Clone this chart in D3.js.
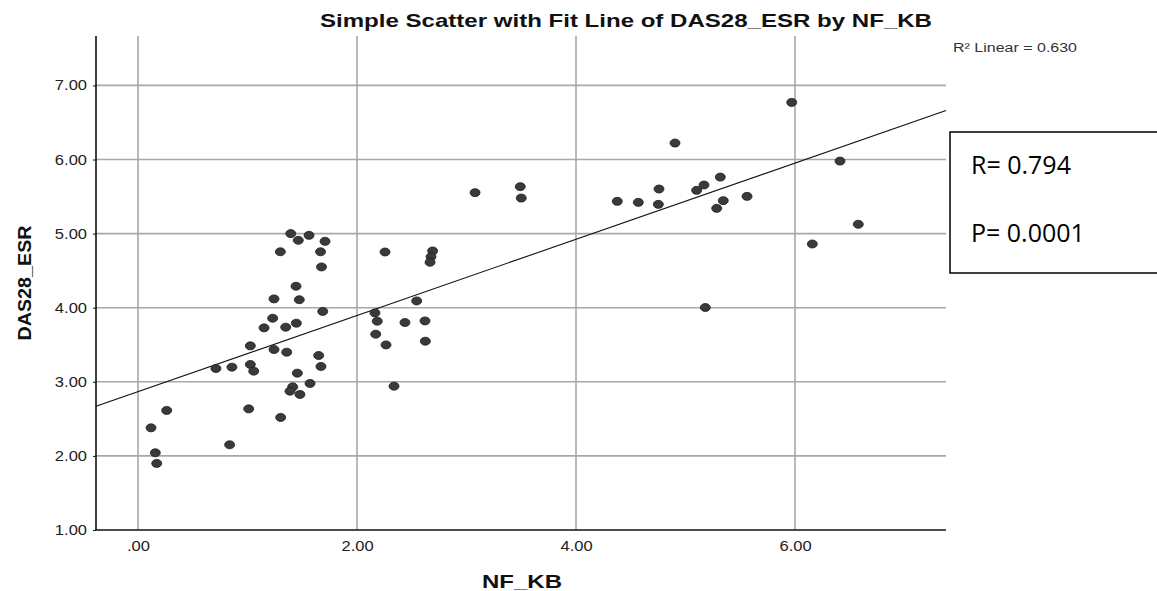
<!DOCTYPE html>
<html>
<head>
<meta charset="utf-8">
<script src="https://cdn.jsdelivr.net/npm/d3@7"></script>
<style>
  body { margin: 0; background: #fff; }
  text { font-family: "Liberation Sans", Arial, sans-serif; }
</style>
</head>
<body>
<div id="chart"></div>
<script>
// NF_KB (x) and DAS28_ESR (y)
const nfkb = [
  0.158, 0.171, 0.119, 0.262, 0.837, 0.712, 0.858, 1.011, 1.026, 1.026,
  1.057, 1.151, 1.230, 1.242, 1.242, 1.303, 1.300, 1.349, 1.358, 1.395,
  1.464, 1.562, 1.708, 1.667, 1.676, 1.443, 1.473, 1.446, 1.687, 1.455,
  1.413, 1.388, 1.479, 1.571, 1.650, 1.671, 2.164, 2.185, 2.171, 2.265,
  2.338, 2.256, 2.438, 2.545, 2.621, 2.624, 2.691, 2.676, 2.667, 3.078,
  3.491, 3.500, 4.377, 4.569, 4.758, 4.752, 4.904, 5.102, 5.169, 5.318,
  5.345, 5.285, 5.562, 5.181, 5.970, 6.411, 6.578, 6.158
];
const das28 = [
  2.042, 1.899, 2.379, 2.614, 2.150, 3.180, 3.198, 2.635, 3.485, 3.234,
  3.144, 3.728, 3.858, 4.119, 3.436, 2.519, 4.755, 3.737, 3.400, 5.000,
  4.910, 4.977, 4.896, 4.755, 4.550, 4.290, 4.108, 3.791, 3.950, 3.117,
  2.932, 2.874, 2.830, 2.978, 3.355, 3.207, 3.930, 3.818, 3.643, 3.498,
  2.941, 4.752, 3.800, 4.092, 3.822, 3.548, 4.766, 4.687, 4.613, 5.553,
  5.634, 5.480, 5.436, 5.422, 5.602, 5.395, 6.222, 5.584, 5.656, 5.763,
  5.445, 5.341, 5.503, 4.003, 6.771, 5.979, 5.126, 4.860
];
const xTicks = [0, 2, 4, 6];
const yTicks = [1, 2, 3, 4, 5, 6, 7];
const titleText = "Simple Scatter with Fit Line of DAS28_ESR by NF_KB";
const r2Text = "R\u00B2 Linear = 0.630";
const statLines = ["R= 0.794", "P= 0.0001"];

const data = nfkb.map((x, i) => ({ x: x, y: das28[i] }));

const width = 1157, height = 591;
const svg = d3.select("#chart").append("svg")
  .attr("width", width).attr("height", height);

// the source export is a bit wide; stretch text horizontally to match
function stretch(sel, f) {
  sel.each(function () {
    const w = this.getComputedTextLength();
    d3.select(this).attr("textLength", w * f).attr("lengthAdjust", "spacingAndGlyphs");
  });
}

// plot box: left 96, right 946, top 36, bottom 530
const xScale = d3.scaleLinear().domain([-0.3836, 7.379]).range([96, 946]);
const yScale = d3.scaleLinear().domain([1, 7.667]).range([530, 36]);

// GRIDLINES
svg.append("g").selectAll("line").data(yTicks.slice(1)).join("line")
  .attr("x1", 96).attr("x2", 946)
  .attr("y1", d => yScale(d)).attr("y2", d => yScale(d))
  .style("stroke", "#a8a8a8").style("stroke-width", 1.6);
svg.append("g").selectAll("line").data(xTicks).join("line")
  .attr("x1", d => xScale(d)).attr("x2", d => xScale(d))
  .attr("y1", 36).attr("y2", 530)
  .style("stroke", "#a8a8a8").style("stroke-width", 1.6);

// AXES
const yAxis = svg.append("g")
  .attr("transform", "translate(96,0)")
  .call(d3.axisLeft(yScale).tickValues(yTicks).tickFormat(d3.format(".2f")).tickSize(3).tickPadding(6));
const xAxis = svg.append("g")
  .attr("transform", "translate(0,530)")
  .call(d3.axisBottom(xScale).tickValues(xTicks)
    .tickFormat(d => d === 0 ? ".00" : d3.format(".2f")(d)).tickSize(0).tickPadding(11));
[xAxis, yAxis].forEach(a => {
  a.select(".domain").style("stroke", "#111").style("stroke-width", 1.6);
  a.selectAll(".tick line").style("stroke", "#111");
  a.selectAll("text").style("font-size", "14px").style("fill", "#222")
    .style("font-family", "'Liberation Sans', Arial, sans-serif");
  stretch(a.selectAll("text"), 1.18);
});
// y axis line runs to top of plot
yAxis.select(".domain").attr("d", "M0,36V530");
xAxis.select(".domain").attr("d", "M96,0H946");

// FIT LINE (least squares)
const mx = d3.mean(data, d => d.x), my = d3.mean(data, d => d.y);
const slope = d3.sum(data, d => (d.x - mx) * (d.y - my)) / d3.sum(data, d => (d.x - mx) ** 2);
const icpt = my - slope * mx;
const [x0, x1] = xScale.domain();
svg.append("line")
  .attr("x1", xScale(x0)).attr("y1", yScale(icpt + slope * x0))
  .attr("x2", xScale(x1)).attr("y2", yScale(icpt + slope * x1))
  .style("stroke", "#111").style("stroke-width", 1.1);

// DOTS
svg.append("g").selectAll("ellipse").data(data).join("ellipse")
  .attr("cx", d => xScale(d.x)).attr("cy", d => yScale(d.y))
  .attr("rx", 5).attr("ry", 4)
  .style("fill", "#3a3a3a").style("stroke", "#1e1e1e").style("stroke-width", 0.8);

// TITLE
svg.append("text")
  .attr("x", 626).attr("y", 27)
  .attr("text-anchor", "middle")
  .attr("textLength", 612).attr("lengthAdjust", "spacingAndGlyphs")
  .style("font-size", "19px").style("font-weight", "bold").style("fill", "#111")
  .text(titleText);

svg.append("text")
  .attr("x", 953).attr("y", 52)
  .attr("textLength", 124).attr("lengthAdjust", "spacingAndGlyphs")
  .style("font-size", "12.5px").style("fill", "#333")
  .text(r2Text);

// AXIS LABELS
svg.append("text")
  .attr("x", 522).attr("y", 588)
  .attr("text-anchor", "middle")
  .attr("textLength", 80).attr("lengthAdjust", "spacingAndGlyphs")
  .style("font-size", "18px").style("font-weight", "bold").style("fill", "#111")
  .text("NF_KB");
svg.append("text")
  .attr("transform", "rotate(-90)")
  .attr("x", -283).attr("y", 31)
  .attr("text-anchor", "middle")
  .attr("textLength", 115).attr("lengthAdjust", "spacingAndGlyphs")
  .style("font-size", "18px").style("font-weight", "bold").style("fill", "#111")
  .text("DAS28_ESR");

// R / P box
svg.append("rect")
  .attr("x", 950).attr("y", 132).attr("width", 220).attr("height", 141)
  .style("fill", "#fff").style("stroke", "#000").style("stroke-width", 1.5);
svg.append("g").selectAll("text").data(statLines).join("text")
  .attr("x", 971).attr("y", (d, i) => 174 + i * 68)
  .style("font-family", "'Open Sans', 'Noto Sans', sans-serif")
  .style("font-size", "25px").style("fill", "#000")
  .text(d => d);
</script>
</body>
</html>
